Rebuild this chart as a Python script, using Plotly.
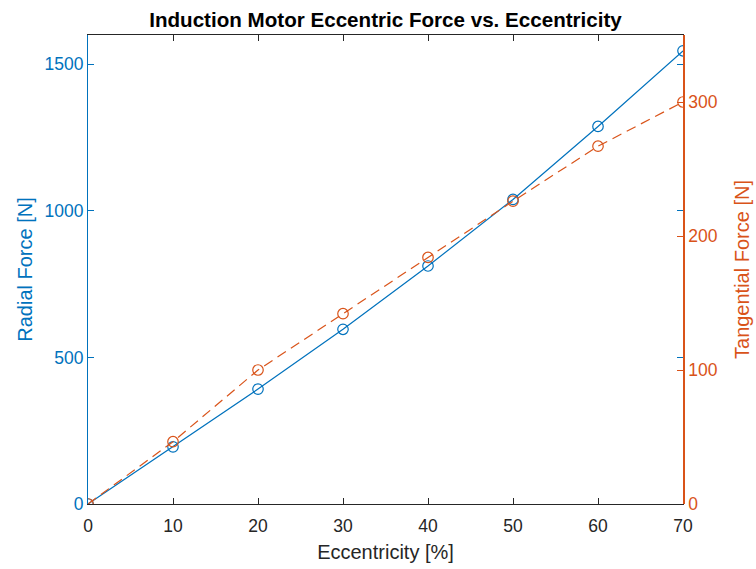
import plotly.graph_objects as go

ecc = [0, 10, 20, 30, 40, 50, 60, 70]
radial = [0, 195, 392, 596, 812, 1039, 1288, 1546]
tangential = [0, 46.5, 100, 142, 184, 226, 267, 300]

BLUE = "#0072BD"
ORANGE = "#D95319"
DARK = "#262626"
FONT = "Liberation Sans, Arial, sans-serif"

fig = go.Figure()
fig.add_trace(go.Scatter(
    x=ecc, y=radial, mode="lines+markers", name="Radial",
    line=dict(color=BLUE, width=1.2),
    marker=dict(symbol="circle-open", size=10.5, color=BLUE, line=dict(width=1.2, color=BLUE)),
    yaxis="y", showlegend=False))
fig.add_trace(go.Scatter(
    x=ecc, y=tangential, mode="lines+markers", name="Tangential",
    line=dict(color=ORANGE, width=1.2, dash="10px,6px"),
    marker=dict(symbol="circle-open", size=10.5, color=ORANGE, line=dict(width=1.2, color=ORANGE)),
    yaxis="y2", showlegend=False))

fig.update_layout(
    width=756, height=569,
    margin=dict(l=88, r=73, t=35, b=65),
    paper_bgcolor="white", plot_bgcolor="white",
    font=dict(family=FONT, size=17.5, color=DARK),
    title=dict(text="<b>Induction Motor Eccentric Force vs. Eccentricity</b>",
               x=0.5, xref="paper", y=1 - 19.5 / 569, yref="container", yanchor="middle",
               font=dict(size=20.6, color="black", family=FONT)),
    xaxis=dict(range=[0, 70], tickvals=[0, 10, 20, 30, 40, 50, 60, 70], automargin=False,
               showgrid=False, zeroline=False, showline=True, linecolor=DARK, linewidth=1,
               mirror="ticks", ticks="inside", ticklen=6, tickcolor=DARK,
               tickfont=dict(size=17.5, color=DARK), ticklabelstandoff=6,
               title=dict(text="Eccentricity [%]", font=dict(size=20, color=DARK), standoff=9)),
    yaxis=dict(range=[0, 1600], tickvals=[0, 500, 1000, 1500], automargin=False,
               showgrid=False, zeroline=False, showline=True, linecolor=BLUE, linewidth=1,
               mirror="ticks", ticks="inside", ticklen=6, tickcolor=BLUE,
               tickfont=dict(size=17.5, color=BLUE),
               title=dict(text="Radial Force [N]", font=dict(size=20, color=BLUE), standoff=6)),
    yaxis2=dict(range=[0, 350], tickvals=[0, 100, 200, 300], overlaying="y", side="right",
                automargin=False,
                showgrid=False, zeroline=False, showline=True, linecolor=ORANGE, linewidth=1.5,
                ticks="inside", ticklen=6, tickcolor=ORANGE,
                tickfont=dict(size=17.5, color=ORANGE),
                title=dict(text="Tangential Force [N]", font=dict(size=20, color=ORANGE), standoff=18)),
)

fig.write_html("out.html")
